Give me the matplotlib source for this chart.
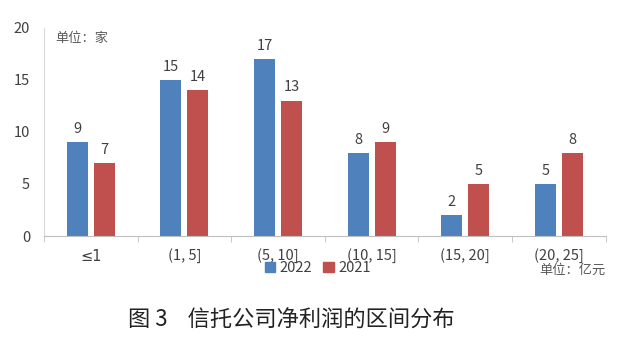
import numpy as np
import matplotlib
matplotlib.use('Agg')
import matplotlib.pyplot as plt
from matplotlib.patches import Patch

plt.rcParams['font.family'] = ['Noto Sans CJK SC', 'DejaVu Sans']

categories = ['≤1', '(1, 5]', '(5, 10]', '(10, 15]', '(15, 20]', '(20, 25]']
vals_2022 = [9, 15, 17, 8, 2, 5]
vals_2021 = [7, 14, 13, 9, 5, 8]
yticks = [0, 5, 10, 15, 20]

blue = '#4F81BD'
red = '#C0504D'
text_col = '#404040'

fig = plt.figure(figsize=(6.29, 3.54), dpi=100)
ax = fig.add_axes([0.07, 0.3333, 0.893, 0.588])

x = np.arange(len(categories))
w = 0.224
off = 0.144
b1 = ax.bar(x - off, vals_2022, w, color=blue)
b2 = ax.bar(x + off, vals_2021, w, color=red)

for bars, vals in ((b1, vals_2022), (b2, vals_2021)):
    for b, v in zip(bars, vals):
        ax.text(b.get_x() + b.get_width() / 2, v + 0.6, str(v),
                ha='center', va='bottom', fontsize=10.5, color=text_col)

ax.set_xlim(-0.5, len(categories) - 0.5)
ax.set_ylim(0, 20)
ax.set_yticks(yticks)
ax.set_xticks(x)
ax.set_xticklabels(categories)
ax.get_xticklabels()[0].set_family(['DejaVu Sans'])
ax.get_xticklabels()[0].set_fontsize(10)
ax.tick_params(axis='x', length=0, pad=9, labelsize=10.5, labelcolor=text_col)
ax.tick_params(axis='y', length=0, pad=10, labelsize=10.5, labelcolor=text_col)
# category boundary ticks
ax.set_xticks(np.arange(-0.5, len(categories), 1), minor=True)
ax.tick_params(axis='x', which='minor', length=4, color='#BFBFBF', direction='out')

for s in ['top', 'right']:
    ax.spines[s].set_visible(False)
ax.spines['left'].set_color('#D9D9D9')
ax.spines['bottom'].set_color('#BFBFBF')

ax.text(0.02, 0.98, '单位：家', transform=ax.transAxes, ha='left', va='top',
        fontsize=9.5, color='#595959')
fig.text(0.963, 0.236, '单位：亿元', ha='right', va='center', fontsize=9.5, color='#595959')

handles = [Patch(color=blue, label='2022'), Patch(color=red, label='2021')]
fig.legend(handles=handles, loc='center', bbox_to_anchor=(0.505, 0.243), ncol=2,
           frameon=False, fontsize=10.5, handlelength=0.7, handleheight=0.7,
           handletextpad=0.3, columnspacing=0.8, labelcolor=text_col)

fig.text(0.463, 0.095, '图 3    信托公司净利润的区间分布', ha='center', va='center',
         fontsize=16, color='#222222')

fig.savefig('out.png', dpi=100)
